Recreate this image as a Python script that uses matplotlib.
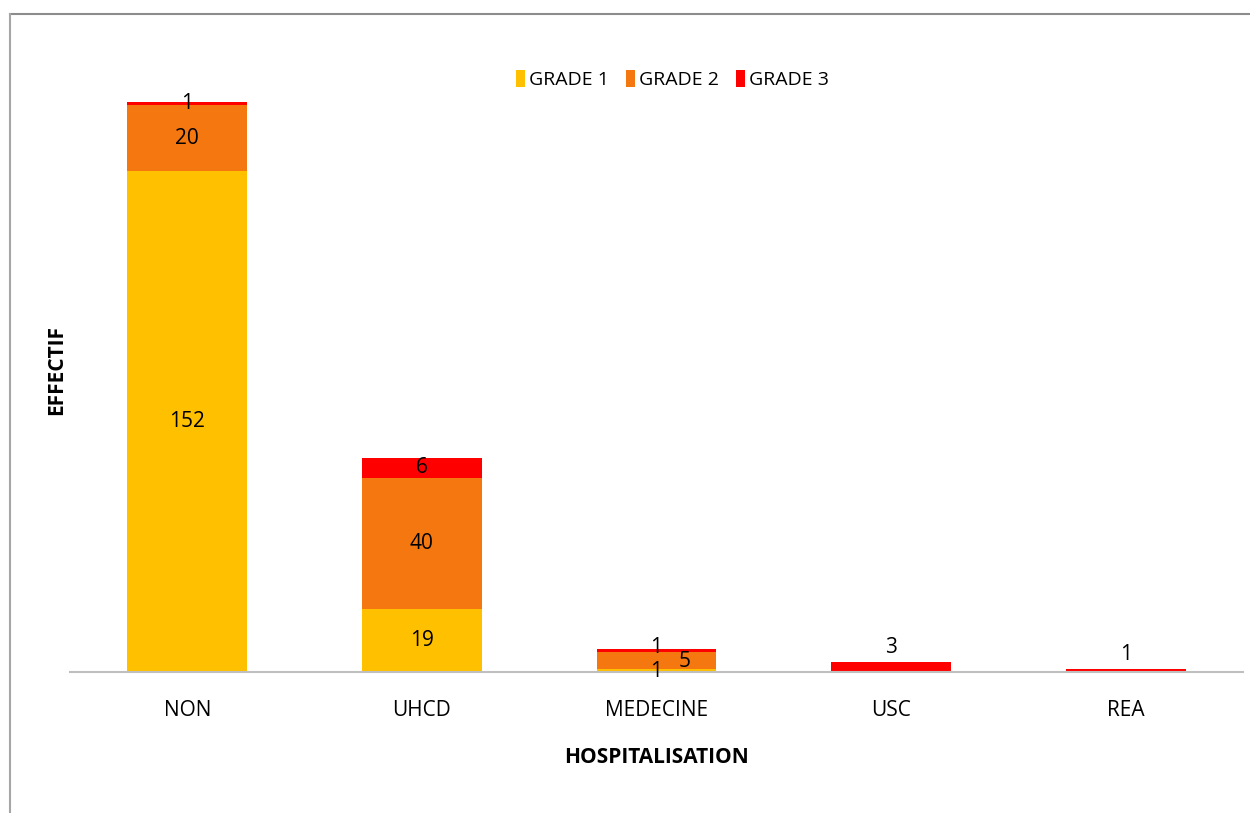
import matplotlib.pyplot as plt
import numpy as np
from matplotlib.lines import Line2D

categories = ['NON', 'UHCD', 'MEDECINE', 'USC', 'REA']
grade1 = [152, 19, 1, 0, 0]
grade2 = [20, 40, 5, 0, 0]
grade3 = [1, 6, 1, 3, 1]
series_names = ['GRADE 1', 'GRADE 2', 'GRADE 3']
colors = ['#FFC000', '#F5770F', '#FF0000']

plt.rcParams['font.family'] = ['Open Sans', 'DejaVu Sans']

fig = plt.figure(figsize=(12.5, 8.13), dpi=100)
ax = fig.add_axes([0.056, 0.1734, 0.9384, 0.7097])

x = np.arange(len(categories))
width = 0.51
bottom = np.zeros(len(categories))
segments = []
for vals, name, col in zip([grade1, grade2, grade3], series_names, colors):
    vals = np.array(vals, dtype=float)
    ax.bar(x, vals, width, bottom=bottom, color=col, label=name, zorder=2)
    segments.append((vals, bottom.copy()))
    bottom = bottom + vals

# value labels centred in each segment; thin bars get their label nudged
for i in range(len(categories)):
    only_g3 = grade1[i] == 0 and grade2[i] == 0
    for k, (vals, bot) in enumerate(segments):
        v = vals[i]
        if v == 0:
            continue
        if only_g3:
            ax.annotate(f'{int(v)}', (x[i], bot[i] + v), xytext=(0, 3),
                        textcoords='offset points', ha='center', va='bottom',
                        fontsize=15)
        else:
            dx, dy = 0, 0
            if bottom[i] < 10:
                dx, dy = [(0, -1), (20, -1), (0, 2)][k]
            ax.annotate(f'{int(v)}', (x[i], bot[i] + v / 2), xytext=(dx, dy),
                        textcoords='offset points', ha='center', va='center',
                        fontsize=15)

ax.set_xlim(-0.5, len(categories) - 0.5)
ax.set_ylim(0, 175.1)
ax.set_xticks(x)
ax.set_xticklabels(categories, fontsize=15)
ax.tick_params(axis='x', length=0, pad=20)
ax.set_yticks([])
for s in ['top', 'right', 'left']:
    ax.spines[s].set_visible(False)
ax.spines['bottom'].set_color('#BFBFBF')
ax.spines['bottom'].set_linewidth(1.5)

ax.set_xlabel('HOSPITALISATION', fontsize=15, fontweight='bold', labelpad=19)
fig.text(0.045, 0.545, 'EFFECTIF', rotation=90, fontsize=15,
         fontweight='bold', ha='center', va='center')

fig.legend(loc='center', bbox_to_anchor=(0.538, 0.902), ncol=3, frameon=False,
           fontsize=14, handlelength=0.45, handleheight=1.0, handletextpad=0.2,
           columnspacing=0.9)

# outer frame
fig.add_artist(Line2D([0.008, 1.0], [0.983, 0.983], color='#8C8C8C', lw=1.5))
fig.add_artist(Line2D([0.008, 0.008], [0.0, 0.983], color='#A6A6A6', lw=1.5))

fig.savefig('out.png', dpi=100)
